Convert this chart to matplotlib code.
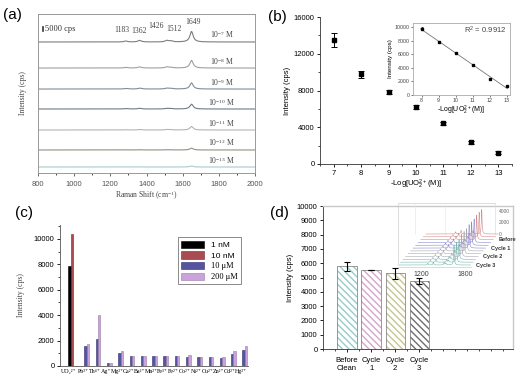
import numpy as np
import matplotlib.pyplot as plt
from matplotlib.ticker import MultipleLocator

# =========================
# Data
# =========================
# (a) SERS spectra, 1649 band intensity for each concentration
conc_labels = ["10$^{-7}$ M", "10$^{-8}$ M", "10$^{-9}$ M", "10$^{-10}$ M",
               "10$^{-11}$ M", "10$^{-12}$ M", "10$^{-13}$ M"]
peak_1649 = [13500, 9750, 7850, 6200, 4450, 2400, 1300]
trace_offsets = [168500, 135000, 108000, 82300, 55300, 29600, 7700]
band_pos = [1285, 1362, 1512, 1535, 1649]
band_rel = [0.09, 0.15, 0.14, 0.10, 1.0]
band_labels = ["1183", "1362", "1426", "1512", "1649"]
band_label_x = [1262, 1356, 1455, 1552, 1655]
band_label_y = [184000, 182000, 189000, 185500, 194500]

# (b) calibration
log_conc = [7, 8, 9, 10, 11, 12, 13]
intensity_b = [13500, 9750, 7850, 6200, 4420, 2350, 1250]
err_b = [800, 350, 250, 200, 150, 120, 120]

# (c) selectivity
ions = ["UO\u2082\u00b2\u207a", "Pb\u00b2\u207a", "Th\u2074\u207a", "Ag\u207a", "Mg\u00b2\u207a",
        "Ca\u00b2\u207a", "Ba\u00b2\u207a", "Mn\u00b2\u207a", "Fe\u00b3\u207a", "Fe\u00b2\u207a",
        "Co\u00b2\u207a", "Ni\u00b2\u207a", "Cu\u00b2\u207a", "Zn\u00b2\u207a", "Cd\u00b2\u207a",
        "Hg\u00b2\u207a"]
nan = np.nan
c_1nM = [7880, nan, nan, nan, nan, nan, nan, nan, nan, nan, nan, nan, nan, nan, nan, nan]
c_10nM = [10420, nan, nan, nan, nan, nan, nan, nan, nan, nan, nan, nan, nan, nan, nan, nan]
c_10uM = [nan, 1560, 2100, 200, 1050, 760, 760, 810, 810, 790, 740, 680, 690, 600, 920, 1240]
c_200uM = [nan, 1700, 4000, 260, 1210, 810, 760, 820, 820, 800, 840, 700, 730, 680, 1180, 1580]
c_series = ["1 nM", "10 nM", "10 \u03bcM", "200 \u03bcM"]

# (d) reusability
cycles = ["Before\nClean", "Cycle\n1", "Cycle\n2", "Cycle\n3"]
d_mean = [5780, 5520, 5290, 4780]
d_err = [300, 30, 400, 220]
inset_names = ["Before", "Cycle 1", "Cycle 2", "Cycle 3"]
inset_peak = [4300, 4100, 3900, 3500]

# =========================
# Figure
# =========================
W, H = 531, 382
fig = plt.figure(figsize=(W / 100, H / 100), dpi=100)

SERIF = "Liberation Serif"
SANS = "Liberation Sans"
plt.rcParams["font.family"] = SANS
plt.rcParams["mathtext.default"] = "regular"
plt.rcParams["xtick.direction"] = "out"
plt.rcParams["ytick.direction"] = "out"


def box(l, t, r, b):
    return [l / W, 1 - b / H, (r - l) / W, (b - t) / H]


def lorentz(x, pos, rel, hw=11.0):
    y = np.zeros_like(x)
    for p, r in zip(pos, rel):
        y += r / (1 + ((x - p) / hw) ** 2)
    return y


# ---------- (a) ----------
ax = fig.add_axes(box(38, 14, 255, 173))
shift = np.linspace(800, 2000, 1500)
trace_colors = ["#7d7d80", "#a49ca4", "#7f8c98", "#6e7c88", "#b4b4b4", "#8c9482", "#a9cad2"]
for h, off, col, lab in zip(peak_1649, trace_offsets, trace_colors, conc_labels):
    ax.plot(shift, off + h * lorentz(shift, band_pos, band_rel), color=col, lw=0.8)
    ax.text(1815, off + 9000, lab, ha="center", va="center", fontsize=5.5,
            family=SERIF, color="#444444")
for lab, x, y in zip(band_labels, band_label_x, band_label_y):
    ax.text(x, y, lab, ha="center", va="center", fontsize=5.5, family=SERIF, color="#444444")
ax.plot([826, 826], [183000, 188000], color="#333333", lw=1.2)
ax.text(838, 185500, "5000 cps", va="center", fontsize=6, family=SERIF, color="#333333")
ax.set_xlim(800, 2000)
ax.set_ylim(0, 204500)
ax.set_yticks([])
ax.xaxis.set_major_locator(MultipleLocator(200))
ax.xaxis.set_minor_locator(MultipleLocator(100))
ax.tick_params(axis="x", labelsize=5.5, length=2.5, width=0.6, colors="#555555")
ax.tick_params(axis="x", which="minor", length=1.5, width=0.5)
for s in ax.spines.values():
    s.set_color("#999999")
    s.set_linewidth(0.7)
ax.set_xlabel("Raman Shift (cm$^{-1}$)", fontsize=5.5, family=SERIF, labelpad=1, color="#444444")
ax.set_ylabel("Intensity (cps)", fontsize=5.5, family=SERIF, labelpad=8, color="#444444")
fig.text(3 / W, 1 - 15 / H, "(a)", fontsize=11, va="center")

# ---------- (b) ----------
ax = fig.add_axes(box(320, 17, 512, 164))
ax.errorbar(log_conc, intensity_b, yerr=err_b, fmt="s", color="black", ms=3.2,
            elinewidth=0.7, capsize=2, capthick=0.7)
ax.set_xlim(6.5, 13.5)
ax.set_ylim(0, 16000)
ax.set_xticks(log_conc)
ax.yaxis.set_major_locator(MultipleLocator(4000))
ax.yaxis.set_minor_locator(MultipleLocator(2000))
ax.xaxis.set_minor_locator(MultipleLocator(0.5))
ax.spines["top"].set_visible(False)
ax.spines["right"].set_visible(False)
for s in ("left", "bottom"):
    ax.spines[s].set_linewidth(0.6)
    ax.spines[s].set_color("#333333")
ax.tick_params(labelsize=5.5, length=2.5, width=0.6, pad=1.5)
ax.tick_params(which="minor", length=1.5, width=0.5)
ax.set_xlabel("-Log[UO$_2^{2+}$(M)]", fontsize=5.5, labelpad=1)
ax.set_ylabel("Intensity (cps)", fontsize=5.5, labelpad=2)
fig.text(268 / W, 1 - 17 / H, "(b)", fontsize=11, va="center")

axi = fig.add_axes(box(413, 23, 510, 95))
axi.errorbar(log_conc[1:], intensity_b[1:], yerr=[e * 0.6 for e in err_b[1:]], fmt="s",
             color="black", ms=1.6, elinewidth=0.5, capsize=1, capthick=0.5)
k, b0 = np.polyfit(log_conc[1:], intensity_b[1:], 1)
xf = np.array([7.95, 13.05])
axi.plot(xf, k * xf + b0, color="#777777", lw=0.6)
axi.set_xlim(7.5, 13.2)
axi.set_ylim(-60, 10600)
axi.set_xticks(log_conc[1:])
axi.yaxis.set_major_locator(MultipleLocator(2000))
axi.tick_params(labelsize=3.8, length=1.5, width=0.5, pad=1, colors="#444444")
for s in axi.spines.values():
    s.set_color("#aaaaaa")
    s.set_linewidth(0.6)
axi.text(0.53, 0.85, "R$^2$ = 0.9912", transform=axi.transAxes, fontsize=5.5, color="#444444")
axi.set_xlabel("-Log[UO$_2^{2+}$(M)]", fontsize=5, labelpad=0.5)
axi.set_ylabel("Intensity (cps)", fontsize=4.5, labelpad=1)

# ---------- (c) ----------
ax = fig.add_axes(box(60, 225, 248, 366))
xpos = np.arange(len(ions))
w = 0.21
c_colors = ["#000000", "#a84c52", "#55549e", "#c9a3da"]
c_edges = ["#000000", "#6e2a2e", "#2e2d6e", "#9a7aaa"]
for i, (vals, lab) in enumerate(zip([c_1nM, c_10nM, c_10uM, c_200uM], c_series)):
    ax.bar(xpos + (i - 1.5) * w, vals, width=w, align="edge", color=c_colors[i],
           edgecolor=c_edges[i], linewidth=0.4, label=lab)
ax.set_xlim(-1.06, 15.6)
ax.set_ylim(0, 11100)
# UO2 label sits a little left of its group, as in the original
tick_x = xpos.astype(float)
tick_x[0] -= 0.3
ax.set_xticks(tick_x)
ax.set_xticklabels(ions, family=[SERIF, "DejaVu Serif"], fontsize=4.3)
ax.yaxis.set_major_locator(MultipleLocator(2000))
ax.yaxis.set_minor_locator(MultipleLocator(1000))
ax.spines["top"].set_visible(False)
ax.spines["right"].set_visible(False)
for s in ("left", "bottom"):
    ax.spines[s].set_linewidth(0.6)
    ax.spines[s].set_color("#555555")
ax.tick_params(axis="y", labelsize=5.5, length=2.5, width=0.6, pad=1.5)
ax.tick_params(axis="x", length=0, pad=2.5)
ax.tick_params(which="minor", length=1.5, width=0.5)
ax.set_ylabel("Intensity (cps)", fontsize=5.5, family=SERIF, labelpad=6, color="#444444")
leg = ax.legend(loc="upper right", bbox_to_anchor=(0.985, 0.943), fontsize=6,
                frameon=True, fancybox=False, edgecolor="#333333", handlelength=2.8,
                handleheight=1.0, borderpad=0.4, labelspacing=0.25, handletextpad=0.8)
leg.get_frame().set_linewidth(0.5)
for t in leg.get_texts()[2:]:
    t.set_family(SERIF)
fig.text(15 / W, 1 - 213 / H, "(c)", fontsize=11, va="center")

# ---------- (d) ----------
ax = fig.add_axes(box(323, 206, 513, 349))
dx = np.arange(len(cycles))
hatch_colors = ["#96cccc", "#d4a6cc", "#c6c692", "#6e6e6e"]
for x, m, hc in zip(dx, d_mean, hatch_colors):
    ax.bar(x, m, width=0.8, color="white", edgecolor=hc, hatch="\\\\\\\\\\", linewidth=0)
ax.bar(dx, d_mean, width=0.8, fill=False, edgecolor="#888888", linewidth=0.6)
ax.errorbar(dx, d_mean, yerr=d_err, fmt="none", ecolor="black", elinewidth=0.8,
            capsize=2.5, capthick=0.8)
ax.set_xlim(-1, 6.9)
ax.set_ylim(0, 10000)
ax.set_xticks(dx)
ax.set_xticklabels(cycles)
ax.xaxis.set_minor_locator(MultipleLocator(0.5))
ax.yaxis.set_major_locator(MultipleLocator(1000))
ax.tick_params(labelsize=5.5, length=2.5, width=0.6, pad=1.5)
ax.tick_params(axis="x", pad=3)
ax.tick_params(which="minor", length=1.5, width=0.5)
for s in ("left", "bottom"):
    ax.spines[s].set_linewidth(0.6)
    ax.spines[s].set_color("#333333")
for s in ("top", "right"):
    ax.spines[s].set_linewidth(1.0)
    ax.spines[s].set_color("#c8c8c8")
ax.set_ylabel("Intensity (cps)", fontsize=5.5, labelpad=2)
fig.text(270 / W, 1 - 213 / H, "(d)", fontsize=11, va="center")

# inset: waterfall of spectra before / after cleaning
axw = fig.add_axes(box(393, 196, 513, 276))
axw.axis("off")
axw.set_xlim(800, 2470)
axw.set_ylim(0, 14000)
group_colors = ["#d48a8a", "#8a8ad0", "#a8a8b4", "#7ab8b0"]
per = 3
n_tr = per * len(inset_names)
step_x, step_y = 35.0, 493.0
base_y = 1925
sx = np.linspace(870, 1880, 600)
back_x = (n_tr - 1) * step_x
back_y = base_y + (n_tr - 1) * step_y
# frame of the 3D box
axw.plot([2218, 870, 870], [12775, 12775, 2275], color="#cfcfcf", lw=0.5)
axw.plot([2218, 2218], [12775, back_y], color="#dddddd", lw=0.5)
for gx in [1106, 1523]:
    axw.plot([gx, gx], [back_y, 12775], color="#e4e4e4", lw=0.4)
axw.plot([870, 1880], [base_y - 300, base_y - 300], color="#cccccc", lw=0.5)
for zt in [0, 2000, 4000]:
    axw.text(2270, back_y + zt, str(zt), fontsize=3.5, va="center", color="#666666")
for gx in [1200, 1800]:
    axw.text(gx, base_y - 1100, str(gx), fontsize=5, ha="center", va="top", color="#444444")
for g in range(len(inset_names)):
    for j in range(per):
        kk = n_tr - 1 - (g * per + j)
        spec = inset_peak[g] * lorentz(sx, band_pos, band_rel, hw=6)
        axw.plot(sx + kk * step_x, base_y + kk * step_y + spec, color=group_colors[g], lw=0.4)
    kk = n_tr - 1 - g * per - 1
    axw.text(1885 + kk * step_x + 30, base_y + kk * step_y - 500, inset_names[g], fontsize=4,
             fontweight="bold", va="center", color="#333333")

fig.savefig("out.png", dpi=100)
